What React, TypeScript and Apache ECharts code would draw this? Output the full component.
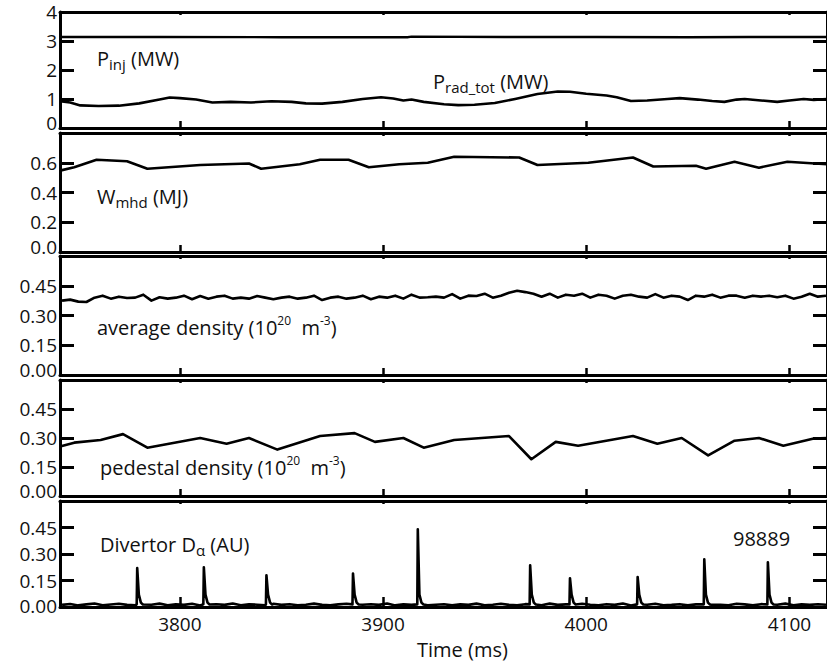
import React, { useEffect, useRef } from 'react';
import * as echarts from 'echarts';

const FONT = '"Open Sans", sans-serif';
const INK = '#111';

// Shared time axis
const timeMin = 3741;
const timeMax = 4118.5;
const timeTicks = [3800, 3900, 4000, 4100];

// Panel y ticks
const ticksPower = [0, 1, 2, 3, 4];
const ticksWmhd = [0, 0.2, 0.4, 0.6, 0.8];
const ticksDensity = [0, 0.15, 0.3, 0.45, 0.6];

// P_inj (MW)
const pInjTime = [3741, 3790, 3850, 3912, 3914, 3960, 4005, 4050, 4080, 4118.5];
const pInj = [3.14, 3.14, 3.13, 3.13, 3.15, 3.14, 3.14, 3.13, 3.14, 3.14];

// P_rad_tot (MW)
const pRadTime = [3741, 3746, 3751, 3760, 3770, 3780, 3790, 3795, 3800, 3808, 3816, 3825, 3835, 3845, 3855, 3862, 3870, 3880, 3890, 3899, 3905, 3910, 3914, 3920, 3930, 3937, 3945, 3955, 3965, 3976, 3986, 3992, 4000, 4010, 4015, 4022, 4030, 4040, 4046, 4055, 4062, 4068, 4074, 4078, 4086, 4094, 4100, 4107, 4112, 4118.5];
const pRad = [0.92, 0.88, 0.78, 0.76, 0.77, 0.85, 0.98, 1.05, 1.03, 0.98, 0.88, 0.9, 0.88, 0.92, 0.9, 0.85, 0.84, 0.9, 1.0, 1.06, 1.02, 0.95, 0.98, 0.9, 0.82, 0.79, 0.8, 0.86, 1.0, 1.17, 1.26, 1.25, 1.18, 1.12, 1.06, 0.93, 0.95, 1.0, 1.03, 0.98, 0.93, 0.9, 0.98, 1.0, 0.95, 0.9, 0.95, 1.0, 0.97, 1.0];

// W_mhd (MJ)
const wTime = [3741, 3748, 3759, 3774, 3784, 3810, 3834, 3840, 3859, 3869, 3883, 3893, 3908, 3922, 3935, 3967, 3976, 4001, 4023, 4033, 4054, 4059, 4073, 4085, 4099, 4118.5];
const wMhd = [0.547, 0.57, 0.62, 0.61, 0.56, 0.585, 0.595, 0.56, 0.59, 0.62, 0.62, 0.57, 0.59, 0.6, 0.64, 0.635, 0.585, 0.6, 0.635, 0.575, 0.58, 0.56, 0.607, 0.567, 0.607, 0.59];

// Average density (1e20 m^-3), sampled every 4 ms from 3742
const avgStart = 3742;
const avgStep = 4;
const avgDensity = [0.375, 0.38, 0.37, 0.368, 0.39, 0.4, 0.385, 0.395, 0.388, 0.39, 0.405, 0.375, 0.392, 0.385, 0.39, 0.4, 0.382, 0.398, 0.385, 0.395, 0.4, 0.385, 0.39, 0.385, 0.398, 0.39, 0.382, 0.39, 0.395, 0.385, 0.39, 0.4, 0.378, 0.39, 0.395, 0.385, 0.39, 0.4, 0.382, 0.395, 0.39, 0.4, 0.385, 0.405, 0.39, 0.392, 0.395, 0.39, 0.408, 0.385, 0.4, 0.398, 0.41, 0.39, 0.4, 0.415, 0.425, 0.418, 0.41, 0.395, 0.41, 0.39, 0.405, 0.4, 0.41, 0.39, 0.405, 0.4, 0.385, 0.4, 0.405, 0.395, 0.39, 0.408, 0.39, 0.4, 0.395, 0.378, 0.4, 0.395, 0.405, 0.39, 0.4, 0.4, 0.39, 0.4, 0.395, 0.4, 0.392, 0.4, 0.385, 0.395, 0.41, 0.395, 0.4];

// Pedestal density (1e20 m^-3)
const pedTime = [3741, 3748, 3761, 3772, 3784, 3810, 3823, 3834, 3848, 3869, 3886, 3896, 3910, 3920, 3935, 3962, 3973, 3985, 3996, 4023, 4035, 4047, 4060, 4073, 4085, 4097, 4112, 4118.5];
const pedDensity = [0.256, 0.276, 0.29, 0.32, 0.25, 0.3, 0.27, 0.3, 0.24, 0.31, 0.325, 0.28, 0.3, 0.25, 0.29, 0.31, 0.19, 0.28, 0.26, 0.31, 0.27, 0.3, 0.21, 0.286, 0.3, 0.26, 0.297, 0.3];

// Divertor D-alpha (AU): baseline every 4 ms from 3742, plus ELM spikes
const daStart = 3742;
const daStep = 4;
const daBase = [0.012, 0.017, 0.009, 0.015, 0.02, 0.01, 0.014, 0.018, 0.012, 0.009, 0.016, 0.013, 0.019, 0.01, 0.015, 0.012, 0.018, 0.009, 0.013, 0.016, 0.012, 0.02, 0.01, 0.015, 0.013, 0.009, 0.018, 0.012, 0.016, 0.01, 0.013, 0.019, 0.012, 0.009, 0.015, 0.018, 0.01, 0.013, 0.016, 0.012, 0.02, 0.009, 0.015, 0.012, 0.018, 0.01, 0.013, 0.016, 0.009, 0.015, 0.012, 0.019, 0.01, 0.013, 0.018, 0.012, 0.009, 0.016, 0.013, 0.01, 0.019, 0.012, 0.015, 0.009, 0.018, 0.013, 0.01, 0.016, 0.012, 0.02, 0.009, 0.015, 0.013, 0.018, 0.01, 0.012, 0.016, 0.009, 0.015, 0.019, 0.012, 0.013, 0.01, 0.018, 0.015, 0.009, 0.016, 0.012, 0.013, 0.019, 0.01, 0.015, 0.012, 0.016, 0.013];
const daSpikeTime = [3779, 3811.8, 3842.6, 3885.2, 3917.1, 3972.4, 3992, 4025.3, 4058.1, 4089.4];
const daSpikePeak = [0.22, 0.225, 0.18, 0.19, 0.44, 0.236, 0.163, 0.17, 0.27, 0.253];

const zip = (t: number[], v: number[]) => v.map((y, i) => [t[i], y]);
const grid = (start: number, step: number, v: number[]) => v.map((y, i) => [start + i * step, y]);

function buildDalpha() {
  const pts: number[][] = [];
  grid(daStart, daStep, daBase).forEach((p) => {
    const near = daSpikeTime.some((t) => p[0] > t - 0.6 && p[0] < t + 3);
    if (!near) pts.push(p);
  });
  daSpikeTime.forEach((t, i) => {
    const h = daSpikePeak[i];
    pts.push([t - 0.25, 0.015]);
    pts.push([t, h]);
    pts.push([t + 0.8, 0.07]);
    pts.push([t + 1.8, 0.025]);
    pts.push([t + 2.8, 0.014]);
  });
  pts.sort((a, b) => a[0] - b[0]);
  return pts;
}

const panels = [
  { top: 12, height: 116, ticks: ticksPower, dec: 0, showMax: true, zeroLift: 11 },
  { top: 133, height: 119, ticks: ticksWmhd, dec: 1, showMax: false, zeroLift: 11 },
  { top: 256, height: 119, ticks: ticksDensity, dec: 2, showMax: false, zeroLift: 11 },
  { top: 380, height: 116, ticks: ticksDensity, dec: 2, showMax: false, zeroLift: 10 },
  { top: 501, height: 106, ticks: ticksDensity, dec: 2, showMax: false, zeroLift: 3 },
];

const main = { fontSize: 20, fontFamily: FONT, fill: INK, lineHeight: 26 };
const sub = { fontSize: 15, fontFamily: FONT, fill: INK, lineHeight: 15, verticalAlign: 'bottom' };
const sup = { fontSize: 12, fontFamily: FONT, fill: INK, lineHeight: 12, verticalAlign: 'top' };
const rich = { m: main, s: sub, u: sup };

function label(x: number, y: number, text: string) {
  return {
    type: 'text',
    x,
    y,
    z: 100,
    style: { text, rich, fontSize: 20, fontFamily: FONT, fill: INK, verticalAlign: 'middle', align: 'left' },
  };
}

export default function App() {
  const ref = useRef<HTMLDivElement>(null);
  useEffect(() => {
    if (!ref.current) return;
    const chart = echarts.init(ref.current, null, { renderer: 'svg' });
    const axisLine = { show: true, onZero: false, lineStyle: { color: '#000', width: 3 } };
    const xAxes: any[] = [];
    const yAxes: any[] = [];
    panels.forEach((p, i) => {
      const isLast = i === panels.length - 1;
      xAxes.push({
        type: 'value', gridIndex: i, position: 'bottom', min: timeMin, max: timeMax,
        axisLine,
        axisTick: { show: true, inside: true, length: isLast ? 10 : 7, customValues: timeTicks, lineStyle: { color: '#000', width: 2.5 } },
        axisLabel: {
          show: isLast, customValues: timeTicks, margin: 7, fontSize: 19, fontFamily: FONT, color: INK, lineHeight: 20,
          formatter: (v: number) => String(v),
        },
        splitLine: { show: false },
      });
      xAxes.push({
        type: 'value', gridIndex: i, position: 'top', min: timeMin, max: timeMax,
        axisLine,
        axisTick: { show: true, inside: true, length: 3, customValues: timeTicks, lineStyle: { color: '#000', width: 2.5 } },
        axisLabel: { show: false },
        splitLine: { show: false },
      });
      const tmin = p.ticks[0];
      const tmax = p.ticks[p.ticks.length - 1];
      const step = p.ticks[1] - p.ticks[0];
      yAxes.push({
        type: 'value', gridIndex: i, position: 'left', min: tmin, max: tmax, interval: step,
        axisLine,
        axisTick: { show: true, inside: true, length: 14, lineStyle: { color: '#000', width: 3 } },
        axisLabel: {
          show: true, margin: 3, fontSize: 19, fontFamily: FONT, color: INK, lineHeight: 16, showMaxLabel: p.showMax,
          formatter: (v: number) => {
            const s = v.toFixed(p.dec);
            return Math.abs(v) < 1e-9 ? `{z|${s}}` : s;
          },
          rich: { z: { fontSize: 19, fontFamily: FONT, color: INK, lineHeight: 16, padding: [0, 0, p.zeroLift, 0] } },
        },
        splitLine: { show: false },
      });
      yAxes.push({
        type: 'value', gridIndex: i, position: 'right', min: tmin, max: tmax, interval: step,
        axisLine,
        axisTick: { show: true, inside: true, length: 14, lineStyle: { color: '#000', width: 3 } },
        axisLabel: { show: false },
        splitLine: { show: false },
      });
    });

    const lineSeries = (idx: number, data: number[][], width = 2.6) => ({
      type: 'line', xAxisIndex: idx * 2, yAxisIndex: idx * 2, data,
      showSymbol: false, symbol: 'none', smooth: false,
      lineStyle: { color: '#000', width, join: 'round' },
      silent: true,
    });

    chart.setOption({
      animation: false,
      backgroundColor: '#fff',
      grid: panels.map((p) => ({ left: 60, right: -4, top: p.top, height: p.height, show: false })),
      xAxis: xAxes,
      yAxis: yAxes,
      series: [
        lineSeries(0, zip(pInjTime, pInj), 2.4),
        lineSeries(0, zip(pRadTime, pRad)),
        lineSeries(1, zip(wTime, wMhd)),
        lineSeries(2, grid(avgStart, avgStep, avgDensity)),
        lineSeries(3, zip(pedTime, pedDensity)),
        lineSeries(4, buildDalpha(), 2.6),
      ],
      graphic: [
        label(97, 58, '{m|P}{s|inj}{m| (MW)}'),
        label(433, 81, '{m|P}{s|rad_tot}{m| (MW)}'),
        label(97, 196, '{m|W}{s|mhd}{m| (MJ)}'),
        label(97, 327, '{m|average density (10}{u|20}{m|  m}{u|-3}{m|)}'),
        label(100, 467, '{m|pedestal density (10}{u|20}{m|  m}{u|-3}{m|)}'),
        label(100, 544, '{m|Divertor D}{s|α}{m| (AU)}'),
        label(733, 538, '{m|98889}'),
        label(417, 649, '{m|Time (ms)}'),
      ],
    });
    return () => chart.dispose();
  }, []);
  return <div ref={ref} style={{ position: 'fixed', left: 0, top: 0, width: 827, height: 665, background: '#fff' }} />;
}
